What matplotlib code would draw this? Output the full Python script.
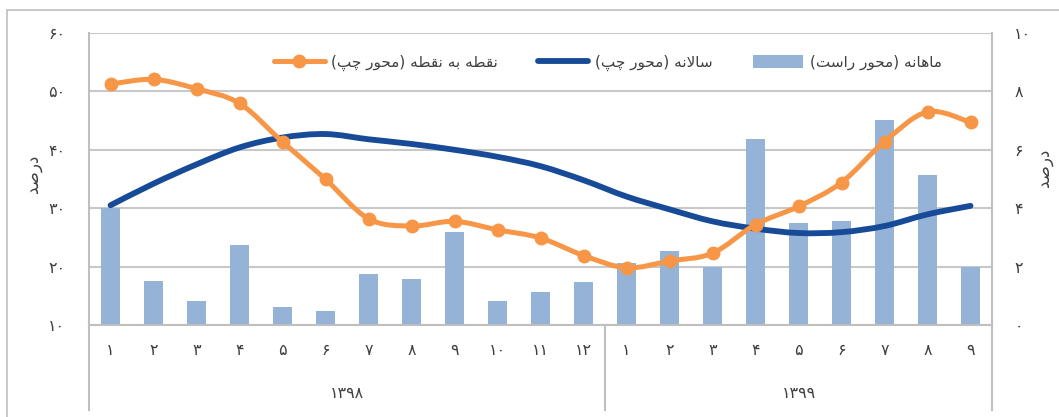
import matplotlib
matplotlib.use("Agg")
import matplotlib.pyplot as plt
from matplotlib.path import Path
from matplotlib.patches import PathPatch, Patch
from matplotlib.lines import Line2D
from matplotlib.transforms import blended_transform_factory

# ---- data ----
months = list(range(1, 13)) + list(range(1, 10))
years = ["1398", "1399"]
year_sizes = [12, 9]

monthly = [4.02, 1.52, 0.81, 2.74, 0.61, 0.49, 1.75, 1.56, 3.17, 0.82, 1.12, 1.46,
           2.13, 2.52, 2.00, 6.37, 3.49, 3.55, 7.02, 5.15, 2.00]
annual = [30.5, 34.2, 37.5, 40.4, 42.1, 42.7, 41.8, 41.0, 40.0, 38.8, 37.2, 34.8,
          32.0, 29.8, 27.75, 26.5, 25.75, 25.9, 26.95, 28.95, 30.4]
point_to_point = [51.25, 52.06, 50.45, 47.94, 41.36, 34.96, 28.2, 26.95, 27.75, 26.3, 24.9, 21.9,
                  19.8, 20.95, 22.3, 27.2, 30.3, 34.4, 41.4, 46.5, 44.7]

left_ticks = [10, 20, 30, 40, 50, 60]
right_ticks = [0, 2, 4, 6, 8, 10]

label_monthly = "ماهانه (محور راست)"
label_annual = "سالانه (محور چپ)"
label_p2p = "نقطه به نقطه (محور چپ)"
axis_label = "درصد"

ORANGE = "#F79646"
NAVY = "#174A97"
BAR = "#95B3D7"
GRID = "#C8C8C8"
TEXT = "#404040"

# ---- minimal Persian shaping (matplotlib has no bidi / joining) ----
FORMS = {  # iso, fin, ini, med
    "ا": ("\uFE8D", "\uFE8E", None, None),
    "ب": ("\uFE8F", "\uFE90", "\uFE91", "\uFE92"),
    "ت": ("\uFE95", "\uFE96", "\uFE97", "\uFE98"),
    "ح": ("\uFEA1", "\uFEA2", "\uFEA3", "\uFEA4"),
    "د": ("\uFEA9", "\uFEAA", None, None),
    "ر": ("\uFEAD", "\uFEAE", None, None),
    "س": ("\uFEB1", "\uFEB2", "\uFEB3", "\uFEB4"),
    "ص": ("\uFEB9", "\uFEBA", "\uFEBB", "\uFEBC"),
    "ط": ("\uFEC1", "\uFEC2", "\uFEC3", "\uFEC4"),
    "ق": ("\uFED5", "\uFED6", "\uFED7", "\uFED8"),
    "ل": ("\uFEDD", "\uFEDE", "\uFEDF", "\uFEE0"),
    "م": ("\uFEE1", "\uFEE2", "\uFEE3", "\uFEE4"),
    "ن": ("\uFEE5", "\uFEE6", "\uFEE7", "\uFEE8"),
    "ه": ("\uFEE9", "\uFEEA", "\uFEEB", "\uFEEC"),
    "و": ("\uFEED", "\uFEEE", None, None),
    "پ": ("\uFB56", "\uFB57", "\uFB58", "\uFB59"),
    "چ": ("\uFB7A", "\uFB7B", "\uFB7C", "\uFB7D"),
    "لا": ("\uFEFB", "\uFEFC", None, None),
}


def fa(text):
    """Shape Persian text and put it in visual (left-to-right) order."""
    chars = []
    i = 0
    while i < len(text):
        if text[i:i + 2] == "لا":
            chars.append("لا")
            i += 2
        else:
            chars.append(text[i])
            i += 1
    out = []
    for k, c in enumerate(chars):
        if c not in FORMS:
            out.append(c)
            continue
        prev = chars[k - 1] if k > 0 else None
        nxt = chars[k + 1] if k + 1 < len(chars) else None
        joins_prev = prev in FORMS and FORMS[prev][2] is not None
        joins_next = FORMS[c][2] is not None and nxt in FORMS
        iso, fin, ini, med = FORMS[c]
        if joins_prev and joins_next:
            out.append(med)
        elif joins_prev:
            out.append(fin)
        elif joins_next:
            out.append(ini)
        else:
            out.append(iso)
    vis = "".join(reversed(out))
    return vis.translate(str.maketrans("()", ")("))


def fa_digits(n):
    return str(n).translate(str.maketrans("0123456789", "۰۱۲۳۴۵۶۷۸۹"))


def smooth_path(xs, ys):
    """Excel-style smoothed line: cubic Bezier through every point."""
    verts = [(xs[0], ys[0])]
    codes = [Path.MOVETO]
    n = len(xs)
    for i in range(n - 1):
        x0, y0 = (xs[i - 1], ys[i - 1]) if i > 0 else (xs[i], ys[i])
        x3, y3 = (xs[i + 2], ys[i + 2]) if i + 2 < n else (xs[i + 1], ys[i + 1])
        c1 = (xs[i] + (xs[i + 1] - x0) / 6, ys[i] + (ys[i + 1] - y0) / 6)
        c2 = (xs[i + 1] - (x3 - xs[i]) / 6, ys[i + 1] - (y3 - ys[i]) / 6)
        verts += [c1, c2, (xs[i + 1], ys[i + 1])]
        codes += [Path.CURVE4] * 3
    return Path(verts, codes)


plt.rcParams["font.family"] = ["DejaVu Sans"]

fig = plt.figure(figsize=(10.59, 4.17), dpi=100)
W, H = 1059, 417
ax2 = fig.add_axes([89 / W, 1 - 325 / H, (992 - 89) / W, (325 - 33) / H])
ax = ax2.twinx()
ax.set_zorder(ax2.get_zorder() + 1)
ax.patch.set_visible(False)

# chart border (cut off at right and bottom in the reference)
fig.patches.append(plt.Rectangle((7 / W, -0.1), 1.2, 1 - 10 / H + 0.1,
                                 transform=fig.transFigure, fill=False,
                                 edgecolor="#BFBFBF", linewidth=1.2))

x = list(range(len(months)))

# bars on the right axis
ax2.bar(x, monthly, width=0.44, color=BAR, zorder=2)
ax2.set_ylim(0, 10)
ax2.set_yticks(right_ticks)
ax2.set_yticklabels([fa_digits(t) for t in right_ticks])
ax2.grid(axis="y", color=GRID, linewidth=1.5, zorder=0)
ax2.set_axisbelow(True)
ax2.set_xlim(-0.5, len(months) - 0.5)
ax2.set_xticks([])

# lines on the left axis
ax.set_ylim(10, 60)
ax.add_patch(PathPatch(smooth_path(x, annual), fill=False, edgecolor=NAVY,
                       linewidth=4.2, capstyle="round", zorder=3))
ax.add_patch(PathPatch(smooth_path(x, point_to_point), fill=False, edgecolor=ORANGE,
                       linewidth=3.6, capstyle="round", zorder=4))
ax.plot(x, point_to_point, linestyle="none", marker="o", markersize=9,
        color=ORANGE, zorder=5)

# left axis = "ax" is the twin, so move its ticks to the left side
ax.yaxis.tick_left()
ax.set_yticks(left_ticks)
ax.set_yticklabels([fa_digits(t) for t in left_ticks])
ax2.yaxis.tick_right()

for a in (ax, ax2):
    a.tick_params(axis="y", length=0, labelsize=11.5, colors=TEXT)
    for s in a.spines.values():
        s.set_visible(False)
ax.tick_params(axis="y", pad=17)
ax2.tick_params(axis="y", pad=16)

for side in ("left", "right", "bottom"):
    ax2.spines[side].set_visible(True)
    ax2.spines[side].set_color("#BFBFBF")
    ax2.spines[side].set_linewidth(1.5)

# multi-level category axis
tr = blended_transform_factory(ax2.transData, ax2.transAxes)
for i, m in enumerate(months):
    ax2.text(i, -0.088, fa_digits(m), transform=tr, ha="center", va="center",
             fontsize=11.5, color=TEXT)
start = 0
for yr, size in zip(years, year_sizes):
    mid = start + (size - 1) / 2
    ax2.text(mid, -0.235, fa_digits(yr), transform=tr, ha="center", va="center",
             fontsize=11.5, color=TEXT)
    start += size
bounds = [-0.5] + [sum(year_sizes[:k + 1]) - 0.5 for k in range(len(year_sizes))]
for b in bounds:
    ax2.plot([b, b], [0, -0.291], transform=tr, color="#BFBFBF", linewidth=1.5,
             clip_on=False)

# axis titles
fig.text(33 / W, 1 - 174 / H, fa(axis_label), rotation=90, ha="center", va="center",
         fontsize=12, color=TEXT)
fig.text(1044 / W, 1 - 168 / H, fa(axis_label), rotation=90, ha="center", va="center",
         fontsize=12, color=TEXT)

# legend
handles = [
    Line2D([], [], color=ORANGE, linewidth=3.6, marker="o", markersize=9,
           solid_capstyle="round"),
    Line2D([], [], color=NAVY, linewidth=4.2, solid_capstyle="round"),
    Patch(facecolor=BAR, edgecolor="none"),
]
labels = [fa(label_p2p), fa(label_annual), fa(label_monthly)]
leg = fig.legend(handles, labels, loc="center", ncol=3, frameon=False,
                 bbox_to_anchor=(608 / W, 1 - 63 / H), fontsize=11,
                 handlelength=3.3, handletextpad=0.45, columnspacing=2.6,
                 handleheight=0.9)
for t in leg.get_texts():
    t.set_color(TEXT)

fig.savefig("out.png", dpi=100)
